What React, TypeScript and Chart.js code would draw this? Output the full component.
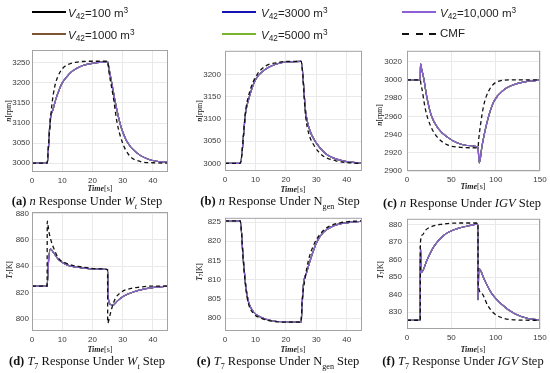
import React, { useEffect, useRef } from "react";
import { Chart, registerables } from "chart.js";
Chart.register(...registerables);

// ---------------- data ----------------
// (a) n response under Wt step
const aTimeV42 = [0, 5, 5.2, 6, 7, 8, 9, 10, 11.5, 13, 15, 17, 20, 25, 25.5, 26.5, 27.6, 29.2, 31.4, 34.8, 39.2, 45];
const aV42 = [3000, 3000, 3010, 3105, 3135, 3162, 3183, 3200, 3215, 3227, 3237, 3244, 3249, 3253, 3235, 3195, 3150, 3097, 3054, 3025, 3008, 3002];
const aTimeCmf = [0, 5, 5.5, 6.5, 7.5, 8.5, 10, 12, 15, 20, 25, 25.5, 26.2, 27, 28.1, 29.8, 32, 35.9, 40, 45];
const aCmf = [3000, 3000, 3050, 3140, 3190, 3215, 3235, 3246, 3252, 3254, 3254, 3225, 3195, 3160, 3103, 3054, 3021, 3004, 3001, 3000];

// (b) n response under Ngen step
const bTimeV42 = [0, 5, 6.8, 7.9, 10.1, 13.4, 17.8, 21, 25, 26.5, 27.6, 29.8, 33.1, 37.5, 41, 45];
const bV42 = [3000, 3000, 3116, 3148, 3190, 3213, 3226, 3229, 3230, 3116, 3080, 3048, 3022, 3008, 3003, 3001];
const bTimeCmf = [0, 5, 6.8, 8.4, 10.6, 13.4, 16.7, 20, 25, 26.5, 27.5, 29.3, 32, 36.4, 40, 45];
const bCmf = [3000, 3000, 3120, 3168, 3201, 3220, 3227, 3230, 3230, 3105, 3068, 3040, 3018, 3006, 3002, 3000];

// (c) n response under IGV step
const cTimeV42 = [0, 15, 15.2, 16.5, 18.8, 22.6, 27.4, 35.3, 45.1, 56.4, 67.8, 80, 81.5, 84.7, 90.4, 97.8, 109, 124, 150];
const cV42 = [3000, 3000, 3018, 3012, 3002, 2980, 2961, 2946.5, 2937.5, 2931, 2928, 2926, 2909, 2928, 2954, 2976, 2989, 2996, 3000];
const cTimeCmf = [0, 15, 15.8, 16.9, 20.7, 26.4, 33.9, 45.1, 60.2, 80, 81, 82.8, 86.5, 92.2, 101.6, 116.6, 150];
const cCmf = [3000, 3000, 2995, 2990, 2968, 2950, 2937.5, 2929, 2926, 2925.5, 2936, 2950, 2972, 2988, 2998, 3000, 3000];

// (d) T7 response under Wt step
const dTimeV42 = [0, 5, 5.5, 6.1, 6.6, 7.2, 8.8, 11.6, 16, 22.7, 25, 25.3, 26, 26.7, 28.2, 30.4, 33.7, 37, 41.4, 45];
const dV42 = [825, 825, 845, 853, 852, 850, 845, 841, 839, 837.8, 837.5, 815, 811, 810.5, 813.6, 817.4, 820.7, 822.7, 824.2, 825];
const dTimeCmf = [0, 5, 5.05, 5.6, 6.1, 7.2, 8.8, 11.6, 16, 22.7, 25, 25.05, 25.8, 26.5, 27.6, 29.3, 31.5, 35.9, 40.3, 45];
const dCmf = [825, 825, 874, 866, 861, 853.5, 846, 842, 839.6, 838, 837.5, 797, 803, 809, 815.7, 820, 822.5, 824.2, 825, 825];

// (e) T7 response under Ngen step
const eTimeV42 = [0, 5, 6, 6.8, 7.7, 9.3, 12, 15.9, 20, 25, 25.3, 25.75, 26.85, 28.5, 30.1, 32.3, 35.6, 40, 45];
const eV42 = [825.3, 825.3, 815.4, 808.6, 804.3, 801.7, 800.2, 799.3, 799.1, 799, 803, 808.6, 812, 816.3, 819.7, 822.3, 824, 824.8, 825.2];
const eTimeCmf = [0, 5, 6, 6.8, 7.7, 9.3, 12, 15.9, 20, 25, 25.3, 26.3, 27.4, 29, 31.2, 34, 37.8, 42.2, 45];
const eCmf = [825.3, 825.3, 815, 808, 803.8, 801.3, 800, 799.2, 799, 799, 804, 810.3, 815, 818.8, 821.8, 823.8, 824.8, 825.2, 825.3];

// (f) T7 response under IGV step
const fTimeV42 = [0, 15, 15.05, 16.2, 22.7, 30.2, 41.6, 56.7, 71.8, 80, 80.05, 81, 87.3, 94.9, 106.3, 121.5, 136.7, 150];
const fV42 = [825.3, 825.3, 868, 852.6, 860, 867.5, 874, 877.8, 879.6, 880.5, 837, 855, 848.5, 841.1, 834.6, 829, 826.3, 825.5];
const fTimeCmf = [0, 15, 15.05, 17, 20.8, 26.4, 37.8, 60.4, 80, 80.2, 83.5, 91.1, 98.7, 110, 129, 150];
const fCmf = [825.3, 825.3, 868.8, 874, 876.8, 878.7, 880.2, 881, 881, 846.7, 841.1, 833.7, 829, 826.3, 825.4, 825.3];

// tick labels
const shortTimeTicks = [0, 10, 20, 30, 40];
const longTimeTicks = [0, 50, 100, 150];
const aYTicks = [3000, 3050, 3100, 3150, 3200, 3250];
const bYTicks = [3000, 3050, 3100, 3150, 3200];
const cYTicks = [2900, 2920, 2940, 2960, 2980, 3000, 3020];
const dYTicks = [800, 820, 840, 860, 880];
const eYTicks = [800, 805, 810, 815, 820, 825];
const fYTicks = [830, 840, 850, 860, 870, 880];

// series names / colours
const seriesNames = ["V42=100 m3", "V42=1000 m3", "V42=3000 m3", "V42=5000 m3", "V42=10,000 m3"];
const seriesColors = ["#000000", "#7d5530", "#1414b4", "#78b42a", "#8d5fd6"];
const cmfName = "CMF";

// ---------------- rendering ----------------
const SANS = "'Liberation Sans', Arial, sans-serif";
const SERIF = "'Liberation Serif', 'Times New Roman', serif";

type PanelCfg = {
  left: number; top: number; w: number; h: number;
  xMin: number; xMax: number; xTicks: number[];
  yMin: number; yMax: number; yTicks: number[];
  tV: number[]; vV: number[]; tC: number[]; vC: number[];
  yPad: number;
};

const panels: PanelCfg[] = [
  { left: 32, top: 50, w: 136, h: 122, xMin: 0, xMax: 45, xTicks: shortTimeTicks, yMin: 2978, yMax: 3282, yTicks: aYTicks, tV: aTimeV42, vV: aV42, tC: aTimeCmf, vC: aCmf, yPad: 2 },
  { left: 225, top: 50, w: 137, h: 121, xMin: 0, xMax: 45, xTicks: shortTimeTicks, yMin: 2983, yMax: 3254, yTicks: bYTicks, tV: bTimeV42, vV: bV42, tC: bTimeCmf, vC: bCmf, yPad: 4 },
  { left: 407, top: 49, w: 133, h: 122, xMin: 0, xMax: 150, xTicks: longTimeTicks, yMin: 2900, yMax: 3032, yTicks: cYTicks, tV: cTimeV42, vV: cV42, tC: cTimeCmf, vC: cCmf, yPad: 5 },
  { left: 32, top: 212, w: 136, h: 119, xMin: 0, xMax: 45, xTicks: shortTimeTicks, yMin: 791, yMax: 881, yTicks: dYTicks, tV: dTimeV42, vV: dV42, tC: dTimeCmf, vC: dCmf, yPad: 3 },
  { left: 225, top: 217, w: 137, h: 114, xMin: 0, xMax: 45, xTicks: shortTimeTicks, yMin: 796.7, yMax: 826.1, yTicks: eYTicks, tV: eTimeV42, vV: eV42, tC: eTimeCmf, vC: eCmf, yPad: 4 },
  { left: 407, top: 217, w: 133, h: 112, xMin: 0, xMax: 150, xTicks: longTimeTicks, yMin: 820.3, yMax: 883.4, yTicks: fYTicks, tV: fTimeV42, vV: fV42, tC: fTimeCmf, vC: fCmf, yPad: 5 },
];

const boxPlugin = {
  id: "boxFrame",
  afterDraw(chart: any) {
    const { ctx, chartArea: a } = chart;
    ctx.save();
    ctx.strokeStyle = "#a3a3a3";
    ctx.lineWidth = 1;
    ctx.strokeRect(a.left + 0.5, a.top + 0.5, a.right - a.left - 1, a.bottom - a.top - 1);
    ctx.restore();
  },
};

const PL = 36, PT = 8, PR = 12, PB = 18;

function Panel({ cfg }: { cfg: PanelCfg }) {
  const ref = useRef<HTMLCanvasElement>(null);
  const cw = cfg.w + PL + PR;
  const ch = cfg.h + PT + PB;
  useEffect(() => {
    const toPts = (t: number[], v: number[]) => t.map((x, i) => ({ x, y: v[i] }));
    const v42 = toPts(cfg.tV, cfg.vV);
    const datasets: any[] = [
      { label: cmfName, data: toPts(cfg.tC, cfg.vC), borderColor: "#111", borderWidth: 1.3, borderDash: [4, 3] },
    ];
    for (let i = seriesNames.length - 1; i >= 0; i--) {
      datasets.push({ label: seriesNames[i], data: v42, borderColor: seriesColors[i], borderWidth: 1.2 });
    }
    const tickFont = { family: SANS, size: 8 };
    const chart = new Chart(ref.current!, {
      type: "line",
      data: { datasets },
      options: {
        animation: false,
        responsive: false,
        maintainAspectRatio: false,
        layout: { padding: { top: PT, right: PR, left: 0, bottom: 0 } },
        plugins: { legend: { display: false }, tooltip: { enabled: false } },
        elements: { point: { radius: 0 }, line: { cubicInterpolationMode: "monotone" } },
        scales: {
          x: {
            type: "linear", min: cfg.xMin, max: cfg.xMax,
            afterBuildTicks: (s: any) => { s.ticks = cfg.xTicks.map((value) => ({ value })); },
            afterFit: (s: any) => { s.height = PB; },
            grid: { color: "#e9e9e9", drawTicks: false },
            border: { display: false },
            ticks: { padding: 4, font: tickFont, color: "#3a3a3a", maxRotation: 0, autoSkip: false, callback: (v: any) => String(v) },
          },
          y: {
            type: "linear", min: cfg.yMin, max: cfg.yMax,
            afterBuildTicks: (s: any) => { s.ticks = cfg.yTicks.map((value) => ({ value })); },
            afterFit: (s: any) => { s.width = PL; },
            grid: { color: "#e9e9e9", drawTicks: false },
            border: { display: false },
            ticks: { padding: cfg.yPad, font: tickFont, color: "#3a3a3a", autoSkip: false, callback: (v: any) => String(v) },
          },
        },
      } as any,
      plugins: [boxPlugin],
    });
    return () => chart.destroy();
  }, []);
  return (
    <canvas
      ref={ref}
      width={cw}
      height={ch}
      style={{ position: "absolute", left: cfg.left - PL, top: cfg.top - PT, width: cw, height: ch }}
    />
  );
}

const sub: React.CSSProperties = { fontSize: "0.72em", verticalAlign: "-0.3em" };
const sup: React.CSSProperties = { fontSize: "0.72em", verticalAlign: "0.45em" };

function V42Label({ text }: { text: string }) {
  const body = text.slice(3, text.length - 1);
  return (
    <span>
      <i>V</i><span style={sub}>42</span>{body}<span style={sup}>3</span>
    </span>
  );
}

function Legend() {
  const cols = [
    { lx: 32, tx: 68 },
    { lx: 222, tx: 261 },
    { lx: 402, tx: 440 },
  ];
  const rows = [12, 34];
  const items: React.ReactNode[] = [];
  [0, 1, 2, 3, 4, 5].forEach((idx) => {
    const col = cols[Math.floor(idx / 2)];
    const y = rows[idx % 2];
    const isCmf = idx === 5;
    if (isCmf) {
      [0, 13.5, 27].forEach((dx, k) => {
        items.push(
          <div key={"d" + k} style={{ position: "absolute", left: col.lx + dx, top: y - 1, width: 7, height: 2, background: "#111" }} />
        );
      });
    } else {
      items.push(
        <div key={"l" + idx} style={{ position: "absolute", left: col.lx, top: y - 1, width: 34, height: 2, background: seriesColors[idx] }} />
      );
    }
    items.push(
      <div key={"t" + idx} style={{
        position: "absolute", left: col.tx, top: y - 8, fontFamily: SANS, fontSize: 11.5,
        lineHeight: "14px", color: "#222", whiteSpace: "nowrap",
      }}>
        {isCmf ? cmfName : <V42Label text={seriesNames[idx]} />}
      </div>
    );
  });
  return <>{items}</>;
}

function Centered({ x, y, children, style }: { x: number; y: number; children: React.ReactNode; style?: React.CSSProperties }) {
  return (
    <div style={{
      position: "absolute", left: x, top: y, transform: "translate(-50%, -50%)",
      whiteSpace: "nowrap", lineHeight: 1, ...style,
    }}>{children}</div>
  );
}

function RotTitle({ x, y, children }: { x: number; y: number; children: React.ReactNode }) {
  return (
    <div style={{
      position: "absolute", left: x, top: y, transform: "translate(-50%, -50%) rotate(-90deg)",
      whiteSpace: "nowrap", lineHeight: 1, fontFamily: SERIF, fontSize: 7.5, color: "#222",
    }}>{children}</div>
  );
}

const timeTitle = (<><b><i>Time</i></b>[s]</>);
const nTitle = (<><b><i>n</i></b>[rpm]</>);
const tTitle = (<><b><i>T</i></b><span style={{ fontSize: "0.7em", verticalAlign: "-0.3em" }}>7</span>[K]</>);

const capStyle: React.CSSProperties = { fontFamily: SERIF, fontSize: 12.5, color: "#111" };
const timeStyle: React.CSSProperties = { fontFamily: SERIF, fontSize: 8, color: "#222" };
const subSm: React.CSSProperties = { fontSize: "0.65em" };

export default function App() {
  return (
    <div style={{ position: "absolute", left: 0, top: 0, width: 550, height: 373, background: "#fff", overflow: "hidden" }}>
      {panels.map((p, i) => <Panel key={i} cfg={p} />)}
      <Legend />
      {/* axis titles */}
      <Centered x={100} y={189} style={timeStyle}>{timeTitle}</Centered>
      <Centered x={293} y={190} style={timeStyle}>{timeTitle}</Centered>
      <Centered x={473} y={187} style={timeStyle}>{timeTitle}</Centered>
      <Centered x={100} y={350} style={timeStyle}>{timeTitle}</Centered>
      <Centered x={293} y={350} style={timeStyle}>{timeTitle}</Centered>
      <Centered x={473} y={350} style={timeStyle}>{timeTitle}</Centered>
      <RotTitle x={9} y={111}>{nTitle}</RotTitle>
      <RotTitle x={200} y={111}>{nTitle}</RotTitle>
      <RotTitle x={380} y={115}>{nTitle}</RotTitle>
      <RotTitle x={10} y={270}>{tTitle}</RotTitle>
      <RotTitle x={200} y={272}>{tTitle}</RotTitle>
      <RotTitle x={381} y={270}>{tTitle}</RotTitle>
      {/* captions */}
      <Centered x={87} y={203} style={capStyle}><b>(a)</b> <i>n</i> Response Under <i>W</i><sub style={subSm}><i>t</i></sub> Step</Centered>
      <Centered x={280} y={203} style={capStyle}><b>(b)</b> <i>n</i> Response Under N<sub style={subSm}>gen</sub> Step</Centered>
      <Centered x={462} y={203} style={capStyle}><b>(c)</b> <i>n</i> Response Under <i>IGV</i> Step</Centered>
      <Centered x={87} y={363} style={capStyle}><b>(d)</b> <i>T</i><sub style={subSm}>7</sub> Response Under <i>W</i><sub style={subSm}><i>t</i></sub> Step</Centered>
      <Centered x={278} y={363} style={capStyle}><b>(e)</b> <i>T</i><sub style={subSm}>7</sub> Response Under N<sub style={subSm}>gen</sub> Step</Centered>
      <Centered x={463} y={363} style={capStyle}><b>(f)</b> <i>T</i><sub style={subSm}>7</sub> Response Under <i>IGV</i> Step</Centered>
    </div>
  );
}
